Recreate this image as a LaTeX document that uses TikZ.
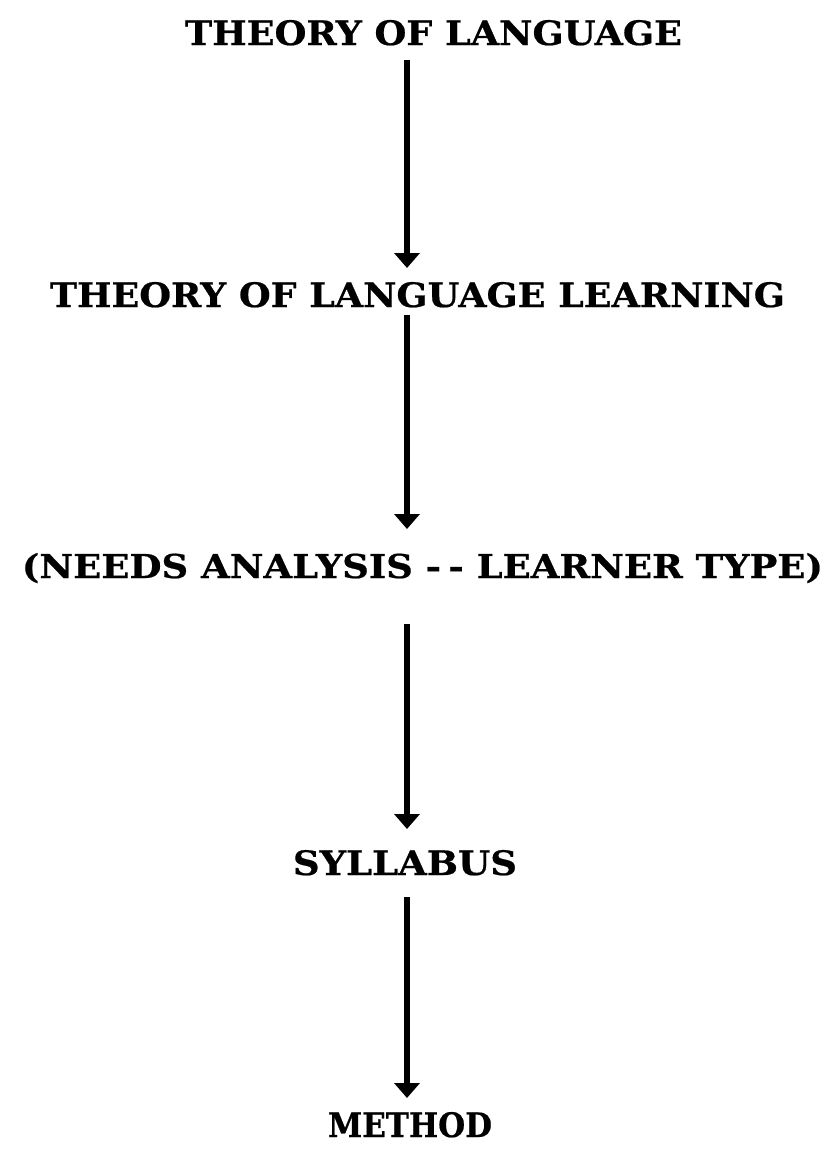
\documentclass[tikz,border=0pt]{standalone}
\usepackage{fontspec}
\usepackage{graphicx}
\newfontfamily\lblfont{DejaVu Serif}[BoldFeatures={FakeBold=0.6}]
\usetikzlibrary{arrows.meta}
\tikzset{
  lbl/.style={inner sep=0pt, outer sep=0pt, anchor=base},
  flow/.style={line width=6.5pt, -{Triangle[width=25pt,length=15pt]}},
}
\newcommand\lbltext[2]{\resizebox{#1}{25pt}{\lblfont\bfseries #2}}
\begin{document}
\begin{tikzpicture}[x=1pt,y=-1pt]
\useasboundingbox[fill=white] (0,0) rectangle (832,1149);
\node[lbl] (t1) at (433.5,45) {\lbltext{497pt}{THEORY OF LANGUAGE}};
\node[lbl] (t2) at (417.5,307) {\lbltext{735pt}{THEORY OF LANGUAGE LEARNING}};
\node[lbl] (t3) at (422.5,578) {\lbltext{801pt}{(NEEDS ANALYSIS -\kern2pt- LEARNER TYPE)}};
\node[lbl] (t4) at (405,875) {\lbltext{224pt}{SYLLABUS}};
\node[lbl] (t5) at (410,1137) {\lbltext{164pt}{METHOD}};
\coordinate (ax) at (407,0);
\draw[flow, shorten <=15pt, shorten >=14pt] (t1.south -| ax) -- (t2.north -| ax);
\draw[flow, shorten <=8pt, shorten >=24pt] (t2.south -| ax) -- (t3.north -| ax);
\draw[flow, shorten <=41pt, shorten >=21pt] (t3.south -| ax) -- (t4.north -| ax);
\draw[flow, shorten <=22pt, shorten >=14pt] (t4.south -| ax) -- (t5.north -| ax);
\end{tikzpicture}
\end{document}
